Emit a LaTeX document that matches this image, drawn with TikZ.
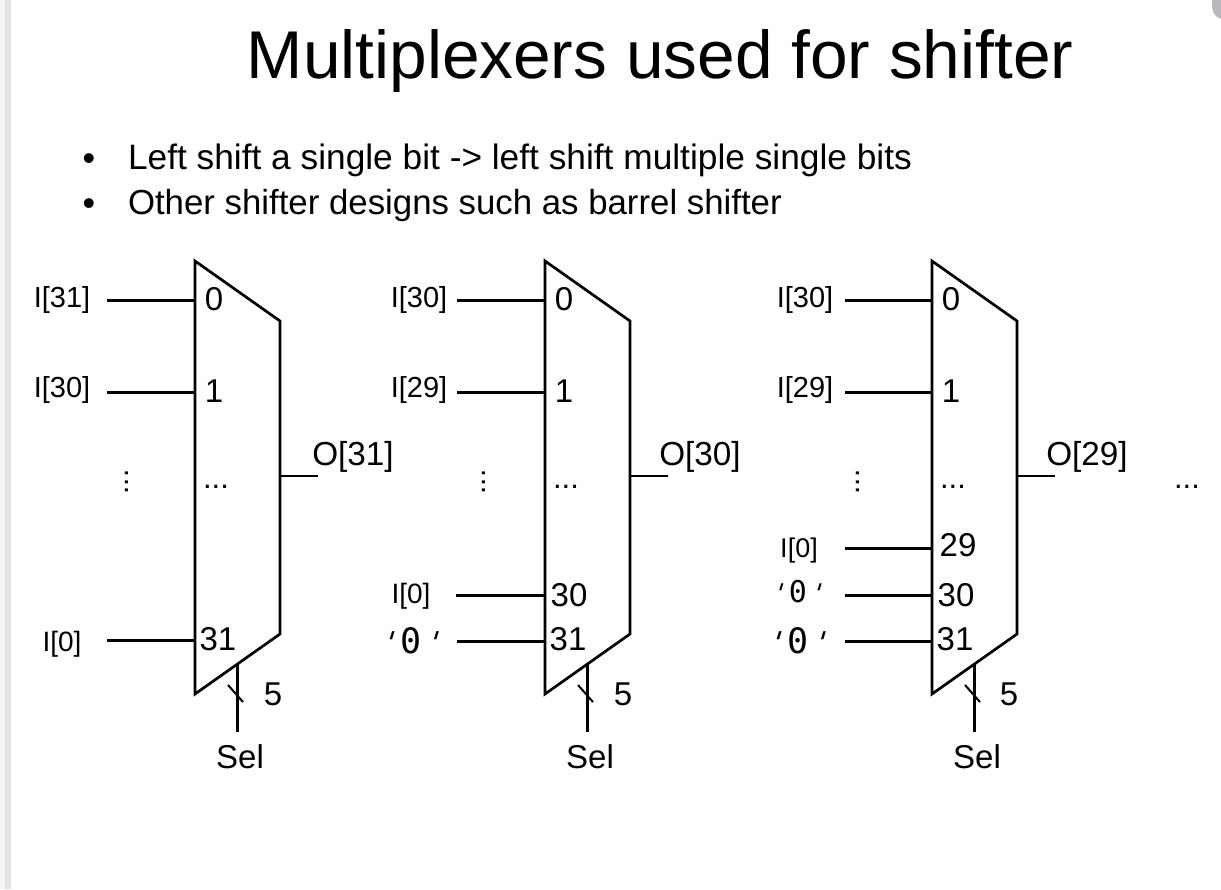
\documentclass[tikz,border=0pt]{standalone}
\usepackage{fontspec}
\setmainfont{Liberation Sans}
\newfontfamily\codefont{DejaVu Sans Mono}
\newfontfamily\quotefont[FakeSlant=0.3]{DejaVu Sans Mono}
\newcommand{\fs}[1]{\fontsize{#1pt}{#1pt}\selectfont}
\newcommand{\zeroq}[1]{{\quotefont\fontsize{\dimexpr#1pt*6/7\relax}{#1pt}\selectfont'}\kern\dimexpr#1pt/7\relax{\codefont\fs{#1}0}\kern.3pt{\quotefont\fontsize{\dimexpr#1pt*6/7\relax}{#1pt}\selectfont'}}
\tikzset{
  txt/.style={inner sep=0pt,outer sep=0pt,anchor=base,text=black},
  txtw/.style={inner sep=0pt,outer sep=0pt,anchor=base west,text=black},
  muxbody/.style={draw=black,line width=2.7pt,line join=miter,fill=white},
  wire/.style={draw=black,line width=3pt},
  outwire/.style={draw=black,line width=2.2pt},
  selwire/.style={draw=black,line width=3pt},
  tick/.style={draw=black,line width=2pt}
}
\begin{document}
\begin{tikzpicture}[x=1pt,y=-1pt]
\useasboundingbox (0,0) rectangle (1221,889);
\fill[white] (0,0) rectangle (1221,889);
\fill[black!4] (0,0) rectangle (5,889);
\fill[black!11] (5,0) rectangle (11,889);
\fill[black!30!blue!4!white!75!black] (1212,0) -- (1221,0) -- (1221,19) .. controls (1215,17) and (1212,12) .. (1212,5) -- cycle;
% title and bullets
\node[txt] (title) at (660,78) {\fs{67.6}Multiplexers used for shifter};
\node[txt] (b1) at (89,170) {\fs{36}•};
\node[txt] (b2) at (89,215) {\fs{36}•};
\node[txtw] (t1) at (128,169) {\fs{35.3}Left shift a single bit -> left shift multiple single bits};
\node[txtw] (t2) at (128,214) {\fs{34.8}Other shifter designs such as barrel shifter};
% multiplexers
\foreach \m/\x/\olab/\ox/\sx/\fx/\slx/\vx in {a/195/O[31]/353/237/273/240/128, b/545/O[30]/700/587/623/590/485, c/932/O[29]/1087/974/1009/977/859} {
  \coordinate (\m-outend) at (\x+123,476);
  \coordinate (\m-out) at (\x+85,476);
  \coordinate (\m-selend) at (\sx+.5,732);
  \coordinate (\m-sel) at (\sx+.5,665);
  \coordinate (\m-t1) at (\sx-9,685);
  \coordinate (\m-t2) at (\sx+6,702);
  \draw[outwire] (\m-out) -- (\m-outend);
  \draw[selwire] (\m-sel) -- (\m-selend);
  \draw[tick] (\m-t1) -- (\m-t2);
  \draw[muxbody] (\x,261) -- (\x+85,321) -- (\x+85,634) -- (\x,694) -- cycle;
  \node[txt] (\m-olab) at (\ox,465) {\fs{33.3}\olab};
  \node[txt] (\m-five) at (\fx,705) {\fs{33}5};
  \node[txt] (\m-sellab) at (\slx,768) {\fs{33}Sel};
  \node[txt] (\m-dots) at (\x+21,488) {\fs{31}...};
  \node[txt,rotate=90] (\m-vdots) at (\vx,482) {\fs{30}...};
}
\node[txt] (more) at (1187,488) {\fs{31}...};
% inputs
\foreach \n/\x/\sx/\y/\lx/\ly/\ltxt/\nx/\ny/\ntxt in {
  a0/195/107/300/62/307/{\fs{29}I[31]}/214/310/0,
  a1/195/107/392/62/397/{\fs{29}I[30]}/214/402/1,
  a31/195/107/640/62/651/{\fs{28}I[0]}/218/650/31,
  b0/545/457/300/419/307/{\fs{29}I[30]}/564/310/0,
  b1/545/457/392/419/397/{\fs{29}I[29]}/564/402/1,
  b30/545/456/595/411/603/{\fs{28}I[0]}/569/606/30,
  b31/545/457/641/409/653/{\zeroq{35}}/568/650/31,
  c0/932/845/300/805/307/{\fs{29}I[30]}/951/310/0,
  c1/932/845/392/805/397/{\fs{29}I[29]}/951/402/1,
  c29/932/845/548/799/557/{\fs{27}I[0]}/958/556/29,
  c30/932/845/595/796/602/{\zeroq{30}}/956/606/30,
  c31/932/845/641/796/653/{\zeroq{35}}/955/650/31} {
  \coordinate (\n-start) at (\sx,\y+.5);
  \coordinate (\n-port) at (\x,\y+.5);
  \draw[wire] (\n-start) -- (\n-port);
  \node[txt] (\n-lab) at (\lx,\ly) {\ltxt};
  \node[txt] (\n-num) at (\nx,\ny) {\fs{33}\ntxt};
}
\end{tikzpicture}
\end{document}
